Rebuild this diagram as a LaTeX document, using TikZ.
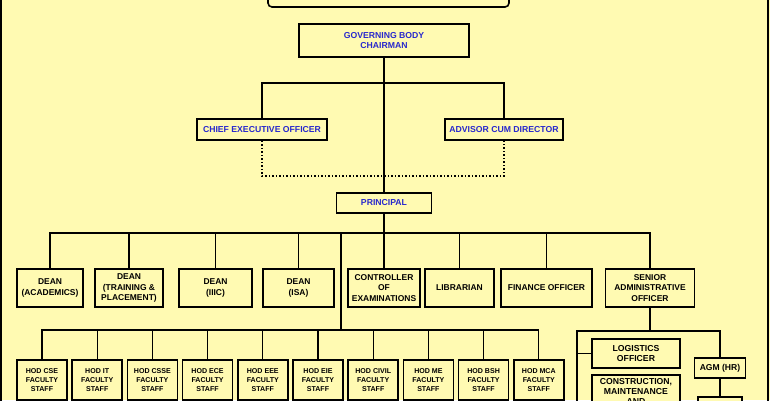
\documentclass[tikz,border=0pt]{standalone}
\usepackage{fontspec}
\setmainfont{Liberation Sans}
\definecolor{chartbg}{RGB}{255,250,178}
\definecolor{headblue}{RGB}{40,40,205}
\tikzset{
    box/.style={draw, line width=1.6bp, inner sep=0pt, align=center, fill=chartbg,
        font=\bfseries\fontsize{8.5}{10.7}\selectfont},
    headbox/.style={box, text=headblue, font=\bfseries\fontsize{8.7}{10}\selectfont},
    hodbox/.style={box, minimum width=50bp, minimum height=40bp,
        font=\bfseries\fontsize{7.1}{8.8}\selectfont},
    link/.style={line width=1.3bp},
    dotlink/.style={line width=1.5bp, dash pattern=on 1.5bp off 2bp},
}
\begin{document}
\begin{tikzpicture}[x=1bp, y=-1bp]
    \useasboundingbox (0,0) rectangle (770,400);
    \clip (0,0) rectangle (770,400);
    \fill[chartbg] (0,0) rectangle (770,400);

    % Outer frame and title box
    \draw[line width=2bp] (1,-20) rectangle (768,420);
    \draw[line width=1.6bp, rounded corners=4bp] (268,-40) rectangle (509,7);

    % Governing body, CEO, advisor
    \node[headbox, minimum width=170bp, minimum height=33bp] (gb) at (384,40.5) {GOVERNING BODY\\CHAIRMAN};
    \node[headbox, minimum width=130bp, minimum height=21bp] (ceo) at (262,129.5) {CHIEF EXECUTIVE OFFICER};
    \node[headbox, minimum width=118bp, minimum height=21bp] (acd) at (504,129.5) {ADVISOR CUM DIRECTOR};
    \node[headbox, minimum width=95bp, minimum height=20bp] (prin) at (384,203) {PRINCIPAL};

    \coordinate (gbbus) at (384,83);
    \coordinate (dotjoin) at (384,176);
    \draw[link] (gb.south) -- (prin.north);
    \draw[link] (ceo.north) |- (gbbus) -| (acd.north);
    \draw[dotlink] (ceo.south) |- (dotjoin) -| (acd.south);

    % Deans and officers under the principal
    \node[box, minimum width=66bp, minimum height=38bp] (dacad) at (50,288) {DEAN\\(ACADEMICS)};
    \node[box, minimum width=68bp, minimum height=38bp] (dtp) at (129,288) {DEAN\\(TRAINING \&\\PLACEMENT)};
    \node[box, minimum width=73bp, minimum height=38bp] (diiic) at (215.5,288) {DEAN\\(IIIC)};
    \node[box, minimum width=71bp, minimum height=38bp] (disa) at (298.5,288) {DEAN\\(ISA)};
    \node[box, minimum width=72bp, minimum height=38bp] (coe) at (384,288) {CONTROLLER\\OF\\EXAMINATIONS};
    \node[box, minimum width=69bp, minimum height=38bp] (lib) at (459.5,288) {LIBRARIAN};
    \node[box, minimum width=91bp, minimum height=38bp] (fin) at (546.5,288) {FINANCE OFFICER};
    \node[box, minimum width=89bp, minimum height=38bp] (sao) at (650,288) {SENIOR\\ADMINISTRATIVE\\OFFICER};

    \coordinate (pbus) at (384,233);
    \draw[link] (prin.south) -- (coe.north);
    \foreach \n in {dacad,dtp,diiic,disa,lib,fin,sao}
        \draw[link] (\n.north) |- (pbus);

    % Heads of departments
    \coordinate (hodtap) at (341,233);
    \coordinate (hodbus) at (341,330);
    \draw[link] (hodtap) -- (hodbus);
    \foreach \dept [count=\i from 0] in {CSE,IT,CSSE,ECE,EEE,EIE,CIVIL,ME,BSH,MCA} {
        \node[hodbox] (hod\i) at ({42+55.2*\i},380) {HOD \dept\\FACULTY\\STAFF};
        \draw[link] (hod\i.north) |- (hodbus);
    }

    % Administration branch
    \node[box, minimum width=88bp, minimum height=29bp, font=\bfseries\fontsize{8.7}{11}\selectfont] (log) at (636,353.5) {LOGISTICS\\OFFICER};
    \node[box, anchor=north, minimum width=88bp, minimum height=34bp, font=\bfseries\fontsize{8.7}{10}\selectfont] (cmn) at (636,374) {CONSTRUCTION,\\MAINTENANCE\\AND};
    \node[box, minimum width=51bp, minimum height=20bp, font=\bfseries\fontsize{8.6}{10}\selectfont] (agm) at (720,368) {AGM (HR)};
    \node[box, anchor=north, minimum width=44bp, minimum height=20bp] (hrsub) at (720,396) {};

    \coordinate (saobus) at (650,331);
    \coordinate (logend) at (577,420);
    \draw[link] (sao.south) -- (saobus);
    \draw[link] (agm.north) |- (saobus) -| (logend);
    \draw[link] (log.west) -- (log.west -| logend);
    \draw[link] (agm.south) -- (hrsub.north);
\end{tikzpicture}
\end{document}
